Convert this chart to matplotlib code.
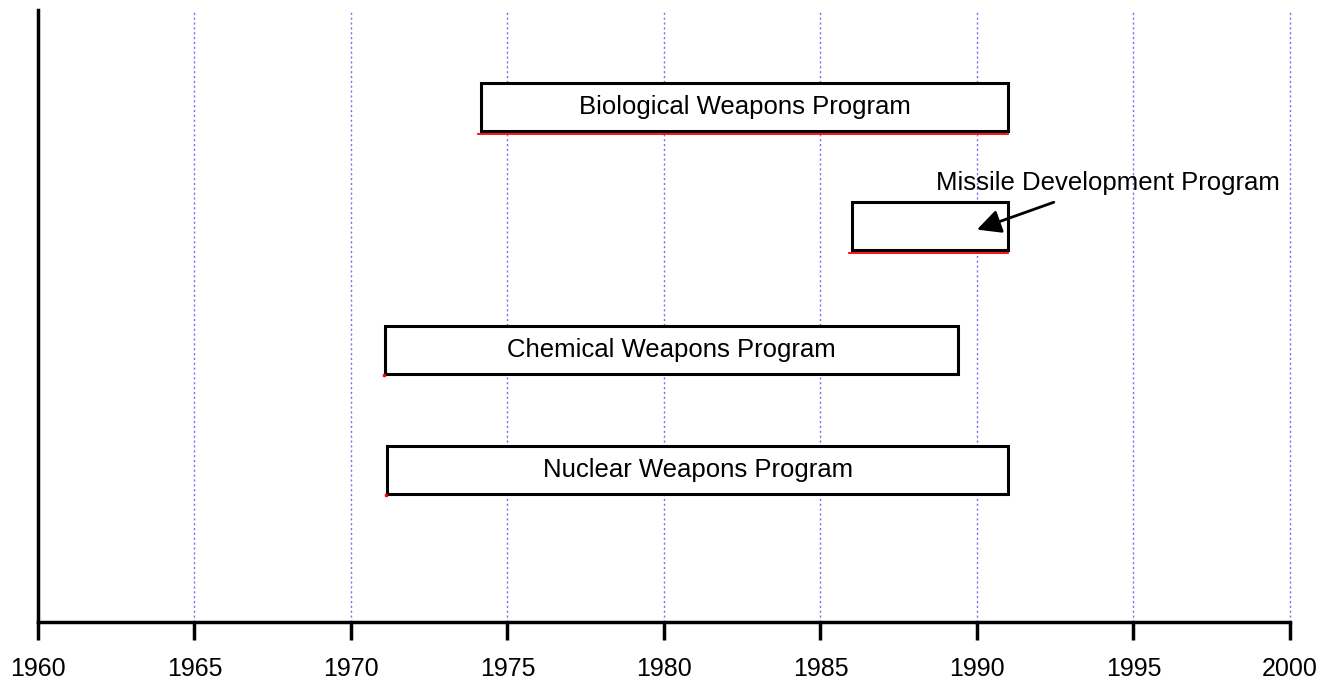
import matplotlib.pyplot as plt
from matplotlib.patches import Rectangle

plt.rcParams['font.family'] = ['Liberation Sans', 'DejaVu Sans']

# program timelines (years)
programs = ["Nuclear Weapons Program", "Chemical Weapons Program",
            "Missile Development Program", "Biological Weapons Program"]
starts = [1971.15, 1971.1, 1986.0, 1974.15]
ends = [1991.0, 1989.4, 1991.0, 1991.0]
rows = [1.27, 2.27, 3.3, 4.29]
red_under = [False, False, True, True]
years = list(range(1960, 2001, 5))

fig = plt.figure(figsize=(13.24, 6.84), dpi=100)
ax = fig.add_axes([0.0287, 0.0906, 0.9456, 0.8948])
ax.set_xlim(1960, 2000)
ax.set_ylim(0, 5.1)

for y in years[1:]:
    ax.axvline(y, color='#7070f0', lw=1.0, ls=(0, (1.5, 2.0)), zorder=0, clip_on=False)

h = 0.4
for name, s, e, r, red in zip(programs, starts, ends, rows, red_under):
    if red:
        ax.plot([s - 0.08, e], [r - h / 2 - 0.022] * 2, color='red', lw=1.3, zorder=1)
    else:
        # small red corner marks
        ax.plot([s - 0.03], [r - h / 2 - 0.01], 's', color='red', ms=2, zorder=3)
    ax.add_patch(Rectangle((s, r - h / 2), e - s, h, facecolor='white',
                           edgecolor='black', lw=2.2, zorder=2))
    if name.startswith("Missile"):
        ax.annotate(name, xy=(1990.0, r - 0.03), xytext=(1994.2, r + 0.36),
                    ha='center', va='center', fontsize=18.5,
                    arrowprops=dict(arrowstyle='-|>', color='black', lw=2,
                                    mutation_scale=36, shrinkA=10, shrinkB=0),
                    zorder=3)
    else:
        ax.text((s + e) / 2, r, name, ha='center', va='center', fontsize=18.5, zorder=3)

ax.spines['top'].set_visible(False)
ax.spines['right'].set_visible(False)
ax.spines['left'].set_linewidth(2.5)
ax.spines['bottom'].set_linewidth(2.5)
ax.set_yticks([])
ax.set_xticks(years)
ax.set_xticklabels([str(y) for y in years], fontsize=18)
ax.tick_params(axis='x', length=13, width=2.5, pad=12)

fig.savefig('out.png', dpi=100)
